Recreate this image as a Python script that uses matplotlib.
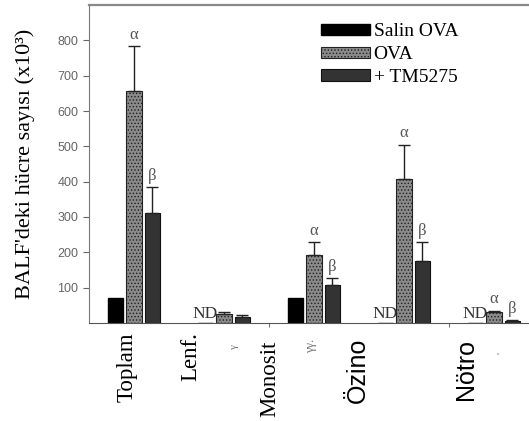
import matplotlib.pyplot as plt
import numpy as np
from matplotlib.transforms import blended_transform_factory

# DATA
groups = ['Toplam', 'Lenf.', 'Monosit', 'Özino', 'Nötro']
seriesNames = ['Salin OVA', 'OVA', '+ TM5275']
salin = [70, 0, 70, 0, 0]
ova = [658, 26, 192, 408, 30]
tm = [312, 17, 108, 175, 5]
ovaErr = [125, 5, 36, 97, 4]
tmErr = [72, 5, 19, 53, 2]
salinND = [False, True, False, True, True]
ovaMark = ['α', '', 'α', 'α', 'α']
tmMark = ['β', '', 'β', 'β', 'β']
labelPos = [-0.08, 0.63, 1.51, 2.49, 3.69]
labelTop = [-0.03, -0.03, -0.055, -0.045, -0.05]
labelSerif = [True, True, True, False, False]

# SET-UP
serif = 'Liberation Serif'
sans = 'Liberation Sans'
plt.rcParams['hatch.linewidth'] = 0.6
barW = 0.17
off = 0.205
x = np.arange(len(groups))

fig = plt.figure(figsize=(5.29, 4.21), dpi=100)
ax = fig.add_axes([0.168, 0.233, 0.832, 0.755])

ax.bar(x - off, salin, barW, color='black', edgecolor='black', label=seriesNames[0])
ax.bar(x, ova, barW, color='#8a8a8a', edgecolor='#222222', hatch='.....', lw=0.8,
       label=seriesNames[1])
ax.bar(x + off, tm, barW, color='#333333', edgecolor='#111111', lw=0.8, label=seriesNames[2])

ax.errorbar(x, ova, yerr=[np.zeros(len(x)), ovaErr], fmt='none', ecolor='#222222',
            elinewidth=1, capsize=4, capthick=1)
ax.errorbar(x + off, tm, yerr=[np.zeros(len(x)), tmErr], fmt='none', ecolor='#222222',
            elinewidth=1, capsize=4, capthick=1)

for i in range(len(groups)):
    if ovaMark[i]:
        ax.text(x[i], ova[i] + ovaErr[i] + 10, ovaMark[i], ha='center', va='bottom',
                family=serif, fontsize=12, color='#555555')
    if tmMark[i]:
        ax.text(x[i] + off, tm[i] + tmErr[i] + 10, tmMark[i], ha='center', va='bottom',
                family=serif, fontsize=12, color='#555555')
    if salinND[i]:
        ax.text(x[i] - off, 2, 'ND', ha='center', va='bottom',
                family=serif, fontsize=12.5, color='#333333')

ax.set_xlim(-0.5, 4.39)
ax.set_ylim(0, 900)
ax.set_yticks(range(100, 900, 100))
ax.tick_params(axis='y', labelsize=9, labelcolor='#666666', color='#666666',
               direction='out', length=4)
for lab in ax.get_yticklabels():
    lab.set_family(sans)
ax.set_xticks([1.5, 3.5])
ax.set_xticklabels([])
ax.tick_params(axis='x', length=3, color='#777777')

ax.spines['right'].set_visible(False)
ax.spines['top'].set_color('#888888')
ax.spines['top'].set_linewidth(1.6)
ax.spines['left'].set_color('#777777')
ax.spines['bottom'].set_color('#555555')

ax.set_ylabel("BALF'deki hücre sayısı (x10³)", family=serif, fontsize=16, labelpad=16)

trans = blended_transform_factory(ax.transData, ax.transAxes)
for i, g in enumerate(groups):
    ax.text(labelPos[i], labelTop[i], g, rotation=90, ha='center', va='top', transform=trans,
            family=serif if labelSerif[i] else sans, fontsize=16.5 if labelSerif[i] else 18)
ax.text(1.12, -0.07, 'γ', rotation=90, ha='center', va='top', transform=trans,
        family=serif, fontsize=8, color='#777777')
ax.text(1.97, -0.05, 'γγ.', rotation=90, ha='center', va='top', transform=trans,
        family=serif, fontsize=9, color='#777777')
ax.text(4.08, -0.09, "'", rotation=90, ha='center', va='top', transform=trans,
        family=serif, fontsize=8, color='#777777')

ax.legend(loc='upper left', bbox_to_anchor=(0.497, 0.985), frameon=False,
          prop={'family': serif, 'size': 14}, handlelength=2.5, handleheight=0.55,
          handletextpad=0.2, labelspacing=0.3, borderpad=0.2)

plt.savefig('out.png', dpi=100)
